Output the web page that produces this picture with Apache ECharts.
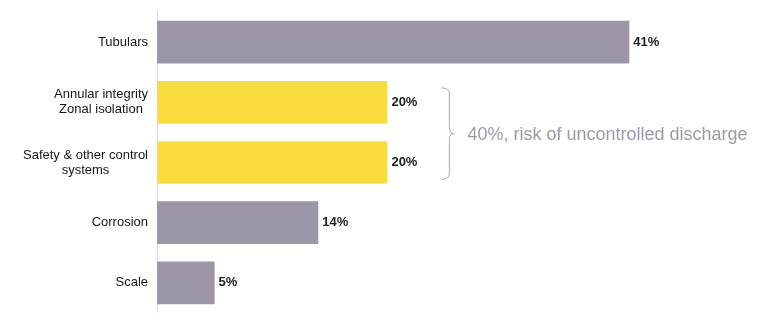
<!DOCTYPE html>
<html>
<head>
<meta charset="utf-8">
<script src="https://cdn.jsdelivr.net/npm/echarts@6/dist/echarts.min.js"></script>
<style>
  html, body { margin: 0; padding: 0; background: #fff; }
  #chart { width: 760px; height: 313px; }
</style>
</head>
<body>
<div id="chart"></div>
<script>
// well integrity failure causes, share of wells
const categories = [
    'Tubulars',
    'Annular integrity\nZonal isolation',
    'Safety & other control\nsystems',
    'Corrosion',
    'Scale'
];
const values = [41, 20, 20, 14, 5];
const groups = ['other', 'discharge', 'discharge', 'other', 'other'];
const bracketNote = '40%, risk of uncontrolled discharge';

const GREY = '#9c96a8';
const YELLOW = '#f9dc3d';

const chart = echarts.init(document.getElementById('chart'));

chart.setOption({
    animation: false,
    grid: { left: 157, top: 12, width: 576, height: 306 },
    xAxis: {
        type: 'value',
        min: 0,
        max: 50,
        show: false
    },
    yAxis: {
        type: 'category',
        data: categories,
        inverse: true,
        axisLine: { show: true, lineStyle: { color: '#dcdcdc', width: 1 } },
        axisTick: { show: false },
        axisLabel: {
            margin: 9,
            fontFamily: 'Liberation Sans',
            fontSize: 13,
            color: '#161616',
            formatter: (v) => v.indexOf('\n') >= 0 ? '{c|' + v + '}' : v,
            rich: {
                c: {
                    align: 'center',
                    fontFamily: 'Liberation Sans',
                    fontSize: 13,
                    color: '#161616',
                    lineHeight: 15
                }
            }
        }
    },
    series: [
        {
            type: 'bar',
            barCategoryGap: '29%',
            data: values.map((v, i) => ({
                value: v,
                itemStyle: { color: groups[i] === 'discharge' ? YELLOW : GREY }
            })),
            label: {
                show: true,
                position: 'right',
                distance: 4,
                formatter: '{c}%',
                fontFamily: 'Liberation Sans',
                fontWeight: 'bold',
                fontSize: 13,
                color: '#222'
            }
        }
    ]
});

// brace around the two yellow bars, placed from the axis scales
const idx = groups.map((g, i) => g === 'discharge' ? i : -1).filter(i => i >= 0);
const first = idx[0], last = idx[idx.length - 1];
const p1 = chart.convertToPixel({ gridIndex: 0 }, [values[first], first]);
const p2 = chart.convertToPixel({ gridIndex: 0 }, [values[last], last]);
const band = p2[1] - p1[1];
const bx = Math.max(p1[0], p2[0]) + 54;
const yTop = p1[1] - band * 0.24;
const yBot = p2[1] + band * 0.28;
const yMid = (yTop + yBot) / 2;
const vx = bx + 8;   // vertical stroke
const tx = bx + 13;  // tip
const r = 6;
const braceStyle = { stroke: '#aaa6b6', lineWidth: 1, fill: null };

function curve(x1, y1, cx, cy, x2, y2) {
    return { type: 'bezierCurve', shape: { x1, y1, cpx1: cx, cpy1: cy, x2, y2 }, style: braceStyle };
}
function seg(x1, y1, x2, y2) {
    return { type: 'line', shape: { x1, y1, x2, y2 }, style: braceStyle };
}

chart.setOption({
    graphic: [
        curve(bx, yTop, vx, yTop, vx, yTop + r),
        seg(vx, yTop + r, vx, yMid - r),
        curve(vx, yMid - r, vx, yMid, tx, yMid),
        curve(tx, yMid, vx, yMid, vx, yMid + r),
        seg(vx, yMid + r, vx, yBot - r),
        curve(vx, yBot - r, vx, yBot, bx, yBot),
        {
            type: 'text',
            x: bx + 26,
            y: yMid + 1,
            style: {
                text: bracketNote,
                fontFamily: 'Liberation Sans',
                fontSize: 18,
                fill: '#9d99ab',
                verticalAlign: 'middle'
            }
        }
    ]
});
</script>
</body>
</html>
